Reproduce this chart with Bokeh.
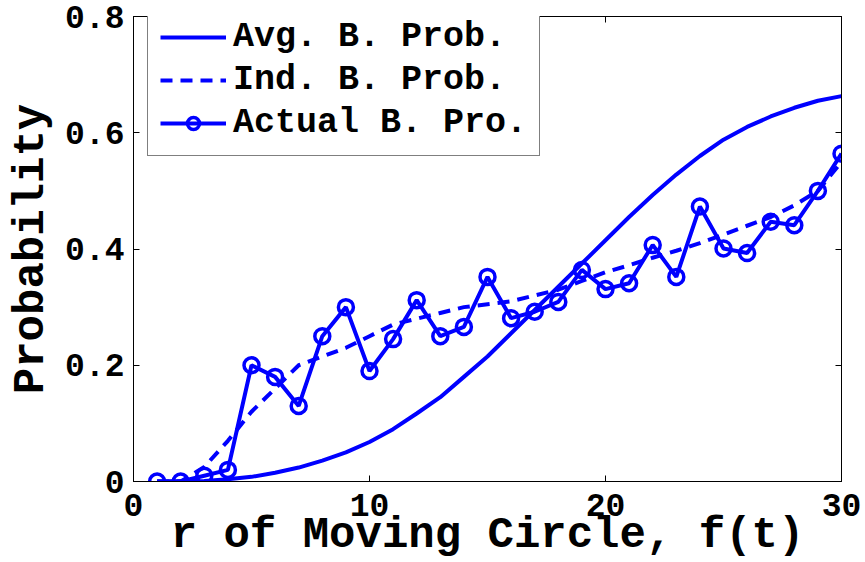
from bokeh.plotting import figure
from bokeh.models import FixedTicker, LinearAxis, Legend, LegendItem, Range1d
from bokeh.embed import file_html
from bokeh.resources import INLINE

x = list(range(1, 31))
avg_prob = [0.0, 0.0005, 0.001, 0.004, 0.008, 0.015, 0.024, 0.036, 0.05, 0.068,
            0.09, 0.117, 0.145, 0.18, 0.215, 0.255, 0.295, 0.335, 0.375, 0.415,
            0.455, 0.493, 0.528, 0.56, 0.588, 0.61, 0.628, 0.643, 0.655, 0.663]
ind_prob = [0.0, 0.0, 0.025, 0.07, 0.12, 0.16, 0.2, 0.215, 0.23, 0.25,
            0.27, 0.28, 0.29, 0.3, 0.305, 0.31, 0.32, 0.33, 0.345, 0.36,
            0.372, 0.385, 0.397, 0.41, 0.425, 0.44, 0.455, 0.475, 0.5, 0.55]
actual_prob = [0.0, 0.0, 0.01, 0.02, 0.2, 0.18, 0.13, 0.25, 0.3, 0.19,
               0.245, 0.312, 0.25, 0.266, 0.352, 0.281, 0.292, 0.309, 0.364, 0.331,
               0.341, 0.407, 0.352, 0.473, 0.401, 0.393, 0.447, 0.441, 0.5, 0.564]
x_ticks = [0, 10, 20, 30]
y_ticks = [0, 0.2, 0.4, 0.6, 0.8]
y_tick_labels = ["0", "0.2", "0.4", "0.6", "0.8"]
labels = ["Avg. B. Prob.", "Ind. B. Prob.", "Actual B. Pro."]
x_title = "r of Moving Circle, f(t)"
y_title = "Probability"

FONT = "Liberation Mono"
BLUE = "#0000ff"

p = figure(width=865, height=562, output_backend="svg", toolbar_location=None,
           x_range=Range1d(0, 30), y_range=Range1d(0, 0.8),
           min_border_left=133, min_border_right=24, min_border_top=16, min_border_bottom=81,
           x_axis_label=x_title, y_axis_label=y_title)
p.grid.visible = False
p.background_fill_color = "white"
p.border_fill_color = "white"
p.outline_line_color = "black"
p.outline_line_width = 1

r_avg = p.line(x, avg_prob, line_color=BLUE, line_width=4)
r_ind = p.line(x, ind_prob, line_color=BLUE, line_width=4, line_dash="12 8")
r_act = p.line(x, actual_prob, line_color=BLUE, line_width=4)
r_act_m = p.scatter(x, actual_prob, marker="circle", size=15, line_color=BLUE,
                    line_width=3.5, fill_color=None)

for ax in (p.xaxis[0], p.yaxis[0]):
    ax.major_tick_in = 6
    ax.major_tick_out = 0
    ax.minor_tick_line_color = None
    ax.axis_line_color = "black"
    ax.major_tick_line_color = "black"
    ax.major_label_text_font = FONT
    ax.major_label_text_font_style = "bold"
    ax.major_label_text_font_size = "33px"
    ax.major_label_text_color = "black"
    ax.axis_label_text_font = FONT
    ax.axis_label_text_font_style = "bold"
    ax.axis_label_text_font_size = "44px"
    ax.axis_label_text_color = "black"

p.xaxis[0].ticker = FixedTicker(ticks=x_ticks)
p.yaxis[0].ticker = FixedTicker(ticks=y_ticks)
p.yaxis[0].major_label_overrides = {t: s for t, s in zip(y_ticks, y_tick_labels)}
p.xaxis[0].major_label_standoff = 12
p.yaxis[0].major_label_standoff = 9
p.xaxis[0].axis_label_standoff = -9
p.yaxis[0].axis_label_standoff = 6

for loc, ticks in (("right", y_ticks), ("above", x_ticks)):
    ax = LinearAxis(ticker=FixedTicker(ticks=ticks))
    ax.major_tick_in = 6
    ax.major_tick_out = 0
    ax.minor_tick_line_color = None
    ax.major_label_overrides = {t: "" for t in ticks}
    ax.major_label_standoff = 0
    ax.axis_line_color = "black"
    p.add_layout(ax, loc)

legend = Legend(items=[
    LegendItem(label=labels[0], renderers=[r_avg]),
    LegendItem(label=labels[1], renderers=[r_ind]),
    LegendItem(label=labels[2], renderers=[r_act, r_act_m]),
], location=(14, 325))
legend.label_text_font = FONT
legend.label_text_font_style = "bold"
legend.label_text_font_size = "35px"
legend.label_text_color = "black"
legend.glyph_width = 66
legend.glyph_height = 30
legend.label_standoff = 7
legend.padding = 12
legend.spacing = 3
legend.margin = 0
legend.border_line_color = "black"
legend.border_line_width = 1
legend.background_fill_color = "white"
legend.background_fill_alpha = 1
p.add_layout(legend)

open("out.html", "w").write(file_html(p, INLINE))
